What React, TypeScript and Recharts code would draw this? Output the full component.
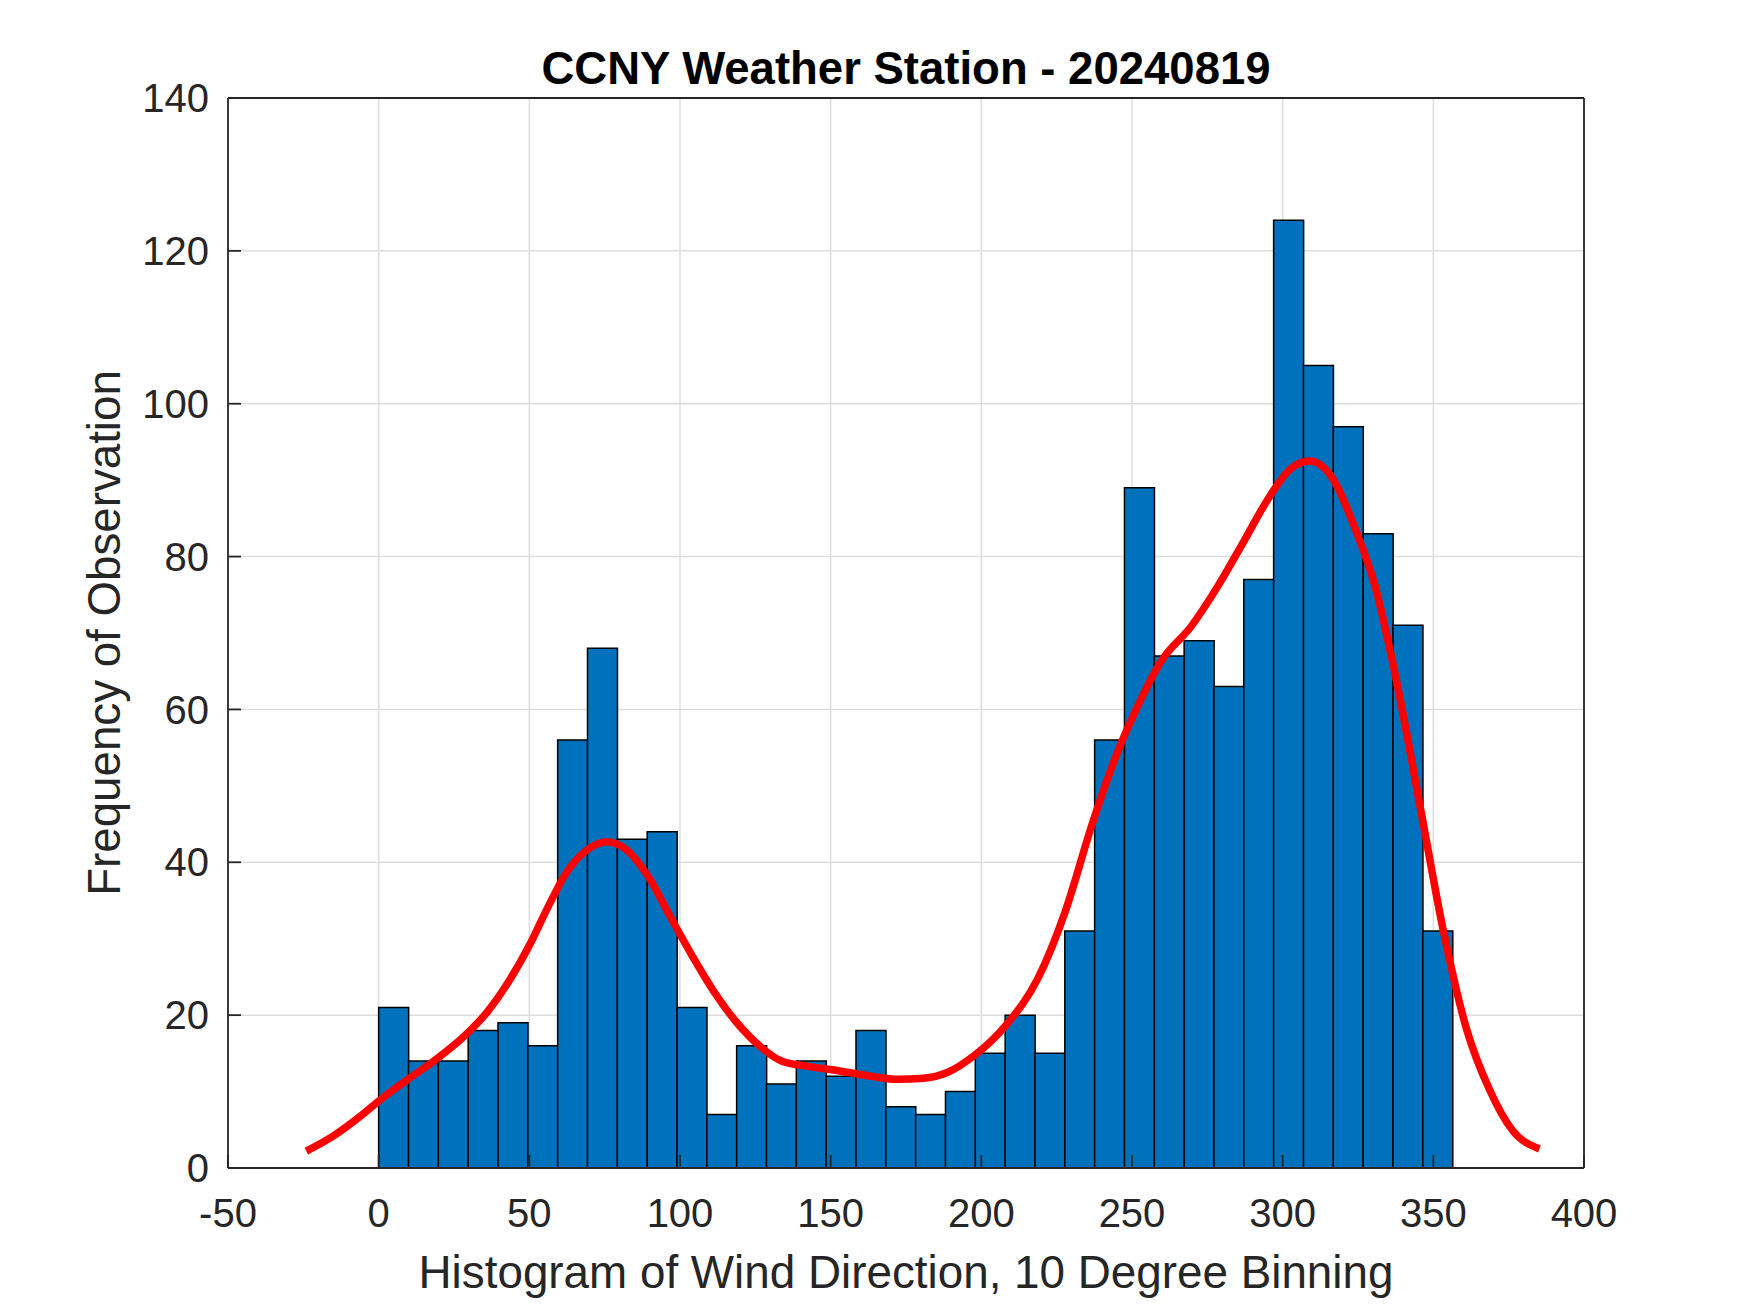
import React from 'react';
import { ComposedChart, Bar, Line, XAxis, YAxis, CartesianGrid } from 'recharts';

// histogram of wind direction, 36 bins of ~9.9 degrees starting at 0
const BIN_WIDTH = 9.9;
const binCounts = [
  21, 14, 14, 18, 19, 16, 56, 68, 43, 44,
  21, 7, 16, 11, 14, 12, 18, 8, 7, 10,
  15, 20, 15, 31, 56, 89, 67, 69, 63, 77,
  124, 105, 97, 83, 71, 31,
];

// fitted density curve (red)
const kdeAngle = [
  -24, -15, -6, 0, 9, 19, 28, 36, 43, 50.5, 56.5, 62.4, 69.8, 75.8, 81.7,
  89.2, 96.6, 104, 111.4, 118.9, 126.3, 133.7, 142.6, 153, 163.4, 172.4,
  179.8, 188.7, 197.6, 208, 218.9, 227.8, 236.7, 244.3, 253.2,
  259.5, 269.7, 278.6, 287.4, 295.1, 302.7, 309, 316.6, 324.2, 330.6,
  338.2, 345.8, 353.4, 361, 368.7, 376.3, 385.2,
];
const kdeFreq = [
  2.2, 4.2, 6.8, 8.75, 11.4, 14.2, 17.1, 20.4, 24.3, 29.5, 34.4, 38.7, 41.8, 42.7, 41.8,
  38.3, 33, 27.8, 23, 19, 16, 14, 13.3, 12.7, 12, 11.6,
  11.7, 12.5, 14.7, 18.6, 24.9, 33.5, 44.9, 53.5, 61.5,
  66.2, 70.9, 76.2, 82.2, 87.5, 91.5, 92.5, 90.2, 83.5, 76.2,
  62.9, 46.9, 30.9, 18.2, 10.2, 4.9, 2.5,
];

const xTicks = [-50, 0, 50, 100, 150, 200, 250, 300, 350, 400];
const yTicks = [0, 20, 40, 60, 80, 100, 120, 140];

const TITLE = 'CCNY Weather Station - 20240819';
const X_LABEL = 'Histogram of Wind Direction, 10 Degree Binning';
const Y_LABEL = 'Frequency of Observation';

const W = 1750;
const H = 1313;
const PLOT = { left: 228, top: 98, right: 1584, bottom: 1168 };
const X_MIN = -50;
const X_MAX = 400;
const pxPerDeg = (PLOT.right - PLOT.left) / (X_MAX - X_MIN);

const FONT = '"Liberation Sans", Arial, Helvetica, sans-serif';
const AXIS_COLOR = '#262626';
const TICK_LEN = 13;

const binData = binCounts.map((count, i) => ({ bin: i * BIN_WIDTH, count }));
const kdeData = kdeAngle.map((angle, i) => ({ angle, freq: kdeFreq[i] }));

const tickStyle = { fill: AXIS_COLOR, fontSize: 40, fontFamily: FONT };
const lineStyle = { stroke: AXIS_COLOR, strokeWidth: 1.8 };

export default function App() {
  return (
    <div style={{ position: 'absolute', left: 0, top: 0, width: W, height: H, overflow: 'hidden', background: '#fff' }}>
      <div style={{ position: 'absolute', left: 0, top: 0 }}>
        <ComposedChart
          width={W}
          height={H}
          data={binData}
          barCategoryGap={0}
          barGap={0}
          margin={{ top: PLOT.top - 1, right: W - PLOT.right - 1, bottom: 0, left: 0 }}
        >
          <CartesianGrid xAxisId="num" stroke="#dedede" strokeWidth={1.5} />
          <XAxis
            xAxisId="num"
            dataKey="angle"
            type="number"
            domain={[X_MIN, X_MAX]}
            ticks={xTicks}
            allowDataOverflow
            height={H - PLOT.bottom}
            tickSize={-TICK_LEN}
            tickMargin={44}
            axisLine={lineStyle}
            tickLine={lineStyle}
            tick={tickStyle}
          />
          <XAxis
            xAxisId="cat"
            dataKey="bin"
            type="category"
            hide
            height={0}
            padding={{
              left: (0 - X_MIN) * pxPerDeg,
              right: (X_MAX - binCounts.length * BIN_WIDTH) * pxPerDeg,
            }}
          />
          <XAxis
            xAxisId="top"
            orientation="top"
            type="number"
            domain={[X_MIN, X_MAX]}
            ticks={xTicks}
            allowDataOverflow
            height={1}
            tickSize={-TICK_LEN}
            axisLine={lineStyle}
            tickLine={lineStyle}
            tick={false}
          />
          <YAxis
            type="number"
            domain={[0, 140]}
            ticks={yTicks}
            allowDataOverflow
            width={PLOT.left}
            tickSize={-TICK_LEN}
            tickMargin={32}
            axisLine={lineStyle}
            tickLine={lineStyle}
            tick={tickStyle}
          />
          <YAxis
            yAxisId="right"
            orientation="right"
            type="number"
            domain={[0, 140]}
            ticks={yTicks}
            allowDataOverflow
            width={1}
            tickSize={-TICK_LEN}
            axisLine={lineStyle}
            tickLine={lineStyle}
            tick={false}
          />
          <Bar
            xAxisId="cat"
            dataKey="count"
            fill="#0072BD"
            stroke="#000000"
            strokeWidth={1.5}
            isAnimationActive={false}
          />
          <Line
            xAxisId="num"
            data={kdeData}
            dataKey="freq"
            type="monotone"
            stroke="#FF0000"
            strokeWidth={7.5}
            dot={false}
            activeDot={false}
            isAnimationActive={false}
          />
        </ComposedChart>
      </div>
      <svg
        width={W}
        height={H}
        style={{ position: 'absolute', left: 0, top: 0, pointerEvents: 'none' }}
      >
        <text x={906} y={84} textAnchor="middle" fontFamily={FONT} fontSize={45.5} fontWeight="bold" fill="#000">
          {TITLE}
        </text>
        <text x={906} y={1288} textAnchor="middle" fontFamily={FONT} fontSize={45.8} fill={AXIS_COLOR}>
          {X_LABEL}
        </text>
        <text
          x={120}
          y={633}
          textAnchor="middle"
          fontFamily={FONT}
          fontSize={45.7}
          fill={AXIS_COLOR}
          transform="rotate(-90 120 633)"
        >
          {Y_LABEL}
        </text>
      </svg>
    </div>
  );
}
